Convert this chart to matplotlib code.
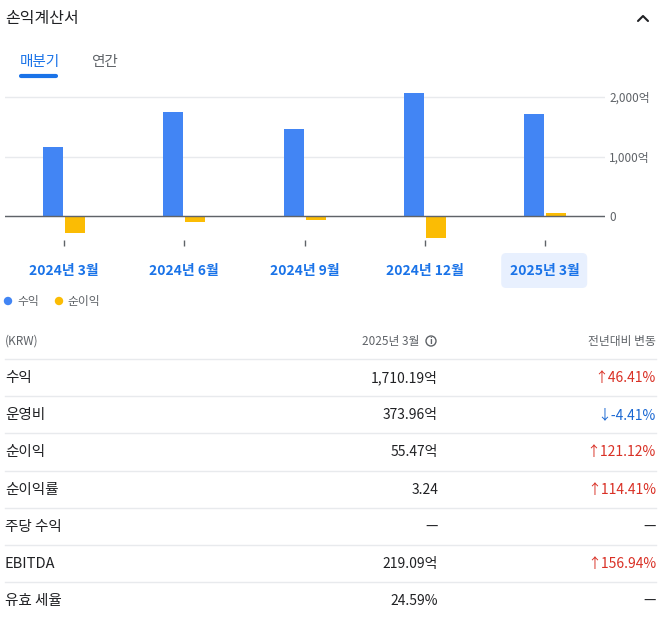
import numpy as np
import matplotlib
matplotlib.use("Agg")
import matplotlib.pyplot as plt
from matplotlib.patches import FancyBboxPatch, Circle
import matplotlib.transforms as mtransforms

plt.rcParams['font.family'] = ['Noto Sans CJK KR', 'DejaVu Sans']

# ----------------------------------------------------
# DATA (억 KRW)
# ----------------------------------------------------
quarters = ["2024년 3월", "2024년 6월", "2024년 9월", "2024년 12월", "2025년 3월"]
revenue = [1165, 1745, 1455, 2065, 1710]
net_income = [-285, -95, -75, -365, 55]
y_ticks = [0, 1000, 2000]
y_tick_labels = ["0", "1,000억", "2,000억"]

row_labels = ["수익", "운영비", "순이익", "순이익률", "주당 수익", "EBITDA", "유효 세율"]
row_values = ["1,710.19억", "373.96억", "55.47억", "3.24", "—", "219.09억", "24.59%"]
row_changes = ["↑46.41%", "↓-4.41%", "↑121.12%", "↑114.41%", "—", "↑156.94%", "—"]

BLUE = "#4285f4"
YELLOW = "#fbbc04"
LINK = "#1a73e8"
DARK = "#202124"
GRAY = "#5f6368"
LIGHT = "#e8eaed"
RED = "#d93025"
DOWN = "#1967d2"

W, H = 662, 623
fig = plt.figure(figsize=(W / 100, H / 100), dpi=100)
fig.patch.set_facecolor("white")

# overlay in pixel coords (origin top-left)
ov = fig.add_axes([0, 0, 1, 1], zorder=0)
ov.set_xlim(0, W)
ov.set_ylim(H, 0)
ov.axis("off")

# ----------------------------------------------------
# HEADER + TABS
# ----------------------------------------------------
ov.text(5, 18, "손익계산서", fontsize=11.5, color=DARK, va="center", ha="left", fontweight="medium")
ov.plot([638, 643, 648], [21, 16, 21], color=DARK, lw=1.5, solid_capstyle="round")
ov.text(20, 62, "매분기", fontsize=10.5, color=LINK, va="center", ha="left")
ov.text(91, 62, "연간", fontsize=10.5, color=GRAY, va="center", ha="left")
ov.plot([21, 56], [75.5, 75.5], color=LINK, lw=3, solid_capstyle="round")

# ----------------------------------------------------
# BAR CHART
# ----------------------------------------------------
left, right, top, bottom = 5, 605, 90, 240
ax = fig.add_axes([left / W, 1 - bottom / H, (right - left) / W, (bottom - top) / H], zorder=1)
ax.set_facecolor("none")

x = np.arange(len(quarters))
bw = 0.166
off = 0.0914
ax.bar(x - off, revenue, width=bw, color=BLUE, zorder=3)
ax.bar(x + off, net_income, width=bw, color=YELLOW, zorder=3)

ax.set_xlim(-0.4905, 4.497)
ax.set_ylim(-403, 2118)
ax.axhline(0, color=GRAY, lw=1, zorder=4)

for s in ax.spines.values():
    s.set_visible(False)
ax.yaxis.tick_right()
ax.set_yticks(y_ticks)
ax.set_yticklabels(y_tick_labels, fontsize=8.5, color=GRAY)
ax.tick_params(axis="y", length=0, pad=3)
ax.grid(axis="y", color=LIGHT, lw=1, zorder=0)
ax.set_xticks(x)
ax.set_xticklabels([""] * len(x))
ax.tick_params(axis="x", length=4, width=1, color=GRAY, direction="out")

# x labels under the chart, last one highlighted
lab_tr = mtransforms.blended_transform_factory(ax.transData, ov.transData)
last_px = ax.transData.transform((x[-1], 0))[0]
ov.add_patch(FancyBboxPatch((last_px - 44, 253), 86, 35,
                            boxstyle="round,pad=0,rounding_size=5",
                            fc="#e8f0fe", ec="none"))
for xi, q in zip(x, quarters):
    ov.text(xi, 270.5, q, transform=lab_tr, fontsize=10, color=LINK,
            ha="center", va="center", fontweight="bold")

# legend
ov.add_patch(Circle((8, 301), 3.5, color=BLUE))
ov.text(17, 301, "수익", fontsize=8.5, color=GRAY, va="center")
ov.add_patch(Circle((59, 301), 3.5, color=YELLOW))
ov.text(67, 301, "순이익", fontsize=8.5, color=GRAY, va="center")

# ----------------------------------------------------
# TABLE
# ----------------------------------------------------
ov.text(5, 341, "(KRW)", fontsize=8.5, color=GRAY, va="center")
ov.text(419, 341, "2025년 3월", fontsize=8.5, color=GRAY, va="center", ha="right")
ov.add_patch(Circle((431, 341), 5, fc="none", ec=GRAY, lw=1))
ov.text(431, 341.5, "i", fontsize=6.5, color=GRAY, va="center", ha="center", fontweight="bold")
ov.text(656, 341, "전년대비 변동", fontsize=8.5, color=GRAY, va="center", ha="right")

row_h = 37.2
for i, (lab, val, chg) in enumerate(zip(row_labels, row_values, row_changes)):
    yl = 359 + row_h * i
    yc = 378 + row_h * i
    ov.plot([5, 656], [yl, yl], color=LIGHT, lw=1)
    ov.text(5, yc, lab, fontsize=10.5, color=DARK, va="center", ha="left", fontweight="medium")
    ov.text(438, yc, val, fontsize=10, color=DARK, va="center", ha="right", fontweight="medium")
    if chg.startswith("↑"):
        c = RED
    elif chg.startswith("↓"):
        c = DOWN
    else:
        c = DARK
    ov.text(656, yc, chg, fontsize=10, color=c, va="center", ha="right", fontweight="medium")

fig.savefig("out.png", dpi=100)
plt.close(fig)
